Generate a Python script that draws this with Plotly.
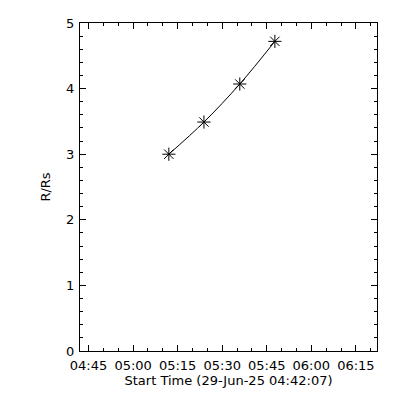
import plotly.graph_objects as go

times = ["2025-06-29 05:12:02", "2025-06-29 05:23:51", "2025-06-29 05:35:55", "2025-06-29 05:47:44"]
heights = [3.00, 3.49, 4.07, 4.72]

x_range = ["2025-06-29 04:42:07", "2025-06-29 06:22:07"]
y_range = [0, 5]

fig = go.Figure()
fig.add_trace(go.Scatter(
    x=times, y=heights, mode="lines+markers",
    line=dict(color="black", width=1, shape="spline"),
    marker=dict(symbol="asterisk-open", size=11, color="black", line=dict(color="black", width=1)),
))

font = dict(family="DejaVu Sans", size=13, color="black")
fig.update_layout(
    width=392, height=392,
    margin=dict(l=72, r=23, t=15, b=49),
    paper_bgcolor="white", plot_bgcolor="white",
    showlegend=False,
    font=font,
    xaxis=dict(
        type="date", range=x_range,
        tick0="2025-06-29 04:45:00", dtick=900000, tickformat="%H:%M",
        ticks="inside", ticklen=6, tickcolor="black", tickwidth=1,
        showline=True, linecolor="black", linewidth=1, mirror="allticks",
        showgrid=False, zeroline=False,
        minor=dict(ticks="inside", ticklen=3, dtick=300000, tick0="2025-06-29 04:45:00", tickcolor="black", showgrid=False),
        title=dict(text="Start Time (29-Jun-25 04:42:07)", font=font, standoff=1),
        tickfont=font,
        ticklabelstandoff=2,
        automargin=False,
    ),
    yaxis=dict(
        range=y_range, dtick=1,
        ticks="inside", ticklen=6, tickcolor="black", tickwidth=1,
        showline=True, linecolor="black", linewidth=1, mirror="allticks",
        showgrid=False, zeroline=False,
        minor=dict(ticks="inside", ticklen=3, dtick=0.2, tickcolor="black", showgrid=False),
        title=dict(text="R/Rs", font=font, standoff=12),
        tickfont=font,
        ticklabelstandoff=2,
        automargin=False,
    ),
)
fig.write_html("out.html")
